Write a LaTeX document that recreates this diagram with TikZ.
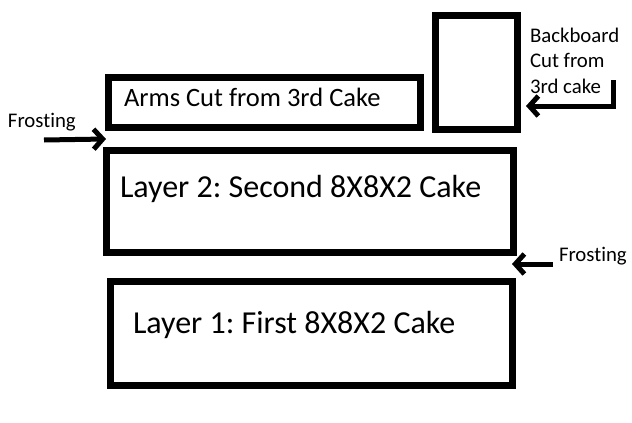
\documentclass[tikz,border=0pt]{standalone}
\usepackage{fontspec}
\setmainfont[RawFeature={-liga}]{Carlito}
\usetikzlibrary{arrows.meta}
\begin{document}
\frenchspacing
\begin{tikzpicture}[x=1pt,y=-1pt,
  cakebox/.style={draw=black,line width=7pt,inner sep=0pt,outer sep=0pt,fill=none},
  lbl/.style={inner sep=0pt,outer sep=0pt,anchor=base west,font=\fontsize{20.8}{24}\selectfont},
  biglbl/.style={inner sep=0pt,outer sep=0pt,anchor=base west,font=\fontsize{32}{38}\selectfont},
  midlbl/.style={inner sep=0pt,outer sep=0pt,anchor=base west,font=\fontsize{26.5}{30}\selectfont},
  arr/.style={line width=5pt,-{Straight Barb[length=9pt,width=20pt,line width=5pt]}}]
\useasboundingbox (0,0) rectangle (632,423);
% boxes
\node[cakebox,minimum width=407pt,minimum height=102pt] (layer2) at (310,201.5) {};
\node[cakebox,minimum width=402pt,minimum height=104pt] (layer1) at (311,333) {};
\node[cakebox,minimum width=312pt,minimum height=50pt] (arms) at (264,102) {};
\node[cakebox,minimum width=82pt,minimum height=114pt] (back) at (476,72) {};
% texts
\node[biglbl] (t2) at (120,197) {Layer 2: Second 8X8X2 Cake};
\node[biglbl] (t1) at (133,333) {Layer 1: First 8X8X2 Cake};
\node[midlbl] (ta) at (124,106) {Arms Cut from 3rd Cake};
\node[lbl] (fl) at (8,127) {Frosting};
\node[lbl] (fr) at (559,261) {Frosting};
\node[lbl] (bb1) at (530,42) {Backboard};
\node[lbl] (bb2) at (530,67) {Cut from};
\node[lbl] (bb3) at (530,93) {3rd cake};
% arrows
\coordinate (flS) at (44,140);
\coordinate (flT) at (106,139);
\coordinate (frS) at (553,264);
\coordinate (frT) at (512,264);
\coordinate (bbS) at (613,80);
\coordinate (bbT) at (526,106);
\draw[arr] (flS) -- (flT);
\draw[arr] (frS) -- (frT);
\draw[arr] (bbS) |- (bbT);
\end{tikzpicture}
\end{document}
